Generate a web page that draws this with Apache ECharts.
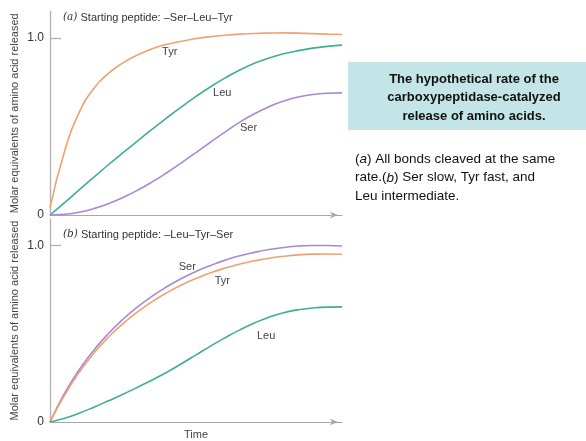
<!DOCTYPE html>
<html>
<head>
<meta charset="utf-8">
<script src="https://cdn.jsdelivr.net/npm/echarts@6/dist/echarts.min.js"></script>
<style>
html,body{margin:0;padding:0;background:#fff;}
#chart{width:586px;height:441px;}
</style>
</head>
<body>
<div id="chart"></div>
<script>
// Time points (arbitrary units, 0..100)
const time = [0, 5, 10, 15, 20, 25, 30, 35, 40, 45, 50, 55, 60, 65, 70, 75, 80, 85, 90, 95, 100];
// Panel (a): Starting peptide –Ser–Leu–Tyr
const tyrA = [0.04, 0.36, 0.58, 0.715, 0.80, 0.86, 0.905, 0.94, 0.965, 0.982, 0.997, 1.008, 1.016, 1.022, 1.026, 1.028, 1.029, 1.028, 1.025, 1.022, 1.02];
const leuA = [0, 0.07, 0.142, 0.214, 0.284, 0.352, 0.419, 0.485, 0.549, 0.611, 0.670, 0.725, 0.775, 0.819, 0.857, 0.887, 0.911, 0.929, 0.943, 0.953, 0.96];
const serA = [0, 0.004, 0.016, 0.036, 0.064, 0.099, 0.140, 0.187, 0.239, 0.295, 0.353, 0.412, 0.470, 0.525, 0.572, 0.612, 0.644, 0.667, 0.681, 0.688, 0.69];
// Panel (b): Starting peptide –Leu–Tyr–Ser
const serB = [0, 0.163, 0.296, 0.407, 0.501, 0.582, 0.652, 0.713, 0.766, 0.813, 0.853, 0.887, 0.917, 0.942, 0.961, 0.977, 0.989, 0.997, 1.0, 1.0, 0.997];
const tyrB = [0, 0.153, 0.282, 0.39, 0.48, 0.557, 0.624, 0.682, 0.732, 0.776, 0.813, 0.845, 0.872, 0.895, 0.913, 0.928, 0.939, 0.947, 0.951, 0.952, 0.95];
const leuB = [0, 0.021, 0.05, 0.084, 0.12, 0.157, 0.197, 0.238, 0.282, 0.33, 0.38, 0.43, 0.478, 0.522, 0.561, 0.594, 0.619, 0.636, 0.646, 0.651, 0.652];
// Tick labels
const yTicks = [0, 1];
const yTickLabels = ['0', '1.0'];
// Curve label positions [time, value]
const labelsA = {Tyr: [41, 0.92], Leu: [59, 0.69], Ser: [68, 0.49]};
const labelsB = {Ser: [47, 0.88], Tyr: [59, 0.80], Leu: [74, 0.49]};

const colors = {Tyr: '#eea274', Leu: '#3fae95', Ser: '#a888d6'};
const font = 'Liberation Sans, Arial, sans-serif';

function pairs(vals) { return time.map((t, i) => [t, vals[i]]); }

function mkSeries(name, vals, idx, labelPos) {
  return {
    type: 'line', name: name, xAxisIndex: idx, yAxisIndex: idx,
    data: pairs(vals), smooth: 0.5, showSymbol: false, silent: true,
    lineStyle: {color: colors[name], width: 1.6},
    markPoint: {
      symbol: 'circle', symbolSize: 0, silent: true,
      label: {show: true, formatter: name, color: '#444', fontSize: 11, fontFamily: font, position: 'inside'},
      data: [{coord: labelPos}]
    }
  };
}

function yAxisCfg(idx) {
  return {
    type: 'value', gridIndex: idx, min: 0, max: 1.15,
    name: 'Molar equivalents of amino acid released',
    nameLocation: 'middle', nameGap: 30, nameRotate: 90,
    nameTextStyle: {fontSize: 11, color: '#444', fontFamily: font},
    splitLine: {show: false},
    axisLine: {show: true, lineStyle: {color: '#b0b0b0', width: 1.3}},
    axisTick: {show: true, inside: true, length: 11, customValues: [1], lineStyle: {color: '#b0b0b0', width: 1.3}},
    axisLabel: {show: true, customValues: yTicks, margin: 6, fontSize: 12, color: '#333', fontFamily: font,
      formatter: v => yTickLabels[yTicks.indexOf(v)]}
  };
}

function xAxisCfg(idx, withName) {
  const a = {
    type: 'value', gridIndex: idx, min: 0, max: 100,
    splitLine: {show: false}, axisTick: {show: false}, axisLabel: {show: false},
    axisLine: {show: true, symbol: ['none', 'arrow'], symbolSize: [5, 8], symbolOffset: [0, -4],
      lineStyle: {color: '#a8a8a8', width: 1.2}}
  };
  if (withName) {
    a.name = 'Time'; a.nameLocation = 'middle'; a.nameGap = 7;
    a.nameTextStyle = {fontSize: 11, color: '#444', fontFamily: font};
  }
  return a;
}

const chart = echarts.init(document.getElementById('chart'), null, {renderer: 'canvas'});
chart.setOption({
  backgroundColor: '#fff',
  animation: false,
  grid: [
    {left: 50, top: 11.5, width: 292, height: 203.5},
    {left: 50, top: 219, width: 292, height: 207}
  ],
  xAxis: [xAxisCfg(0, false), xAxisCfg(1, true)],
  yAxis: [yAxisCfg(0), yAxisCfg(1)],
  series: [
    mkSeries('Tyr', tyrA, 0, labelsA.Tyr),
    mkSeries('Leu', leuA, 0, labelsA.Leu),
    mkSeries('Ser', serA, 0, labelsA.Ser),
    mkSeries('Ser', serB, 1, labelsB.Ser),
    mkSeries('Tyr', tyrB, 1, labelsB.Tyr),
    mkSeries('Leu', leuB, 1, labelsB.Leu)
  ],
  graphic: [
    {type: 'text', left: 63, top: 12, silent: true,
      style: {text: '{i|(a)} Starting peptide: –Ser–Leu–Tyr', fontSize: 11, fill: '#333', fontFamily: font,
        rich: {i: {fontStyle: 'italic', fontFamily: 'DejaVu Serif, serif', fontSize: 10.5, fill: '#333'}}}},
    {type: 'text', left: 63, top: 229, silent: true,
      style: {text: '{i|(b)} Starting peptide: –Leu–Tyr–Ser', fontSize: 11, fill: '#333', fontFamily: font,
        rich: {i: {fontStyle: 'italic', fontFamily: 'DejaVu Serif, serif', fontSize: 10.5, fill: '#333'}}}},
    {type: 'rect', shape: {x: 348, y: 62, width: 238, height: 68}, style: {fill: '#c3e5e7'}, silent: true},
    {type: 'text', x: 474, y: 70, silent: true,
      style: {text: 'The hypothetical rate of the\ncarboxypeptidase-catalyzed\nrelease of amino acids.',
        textAlign: 'center', textVerticalAlign: 'top', fontSize: 13, fontWeight: 'bold', lineHeight: 18.5,
        fill: '#111', fontFamily: font}},
    {type: 'text', x: 355, y: 150, silent: true,
      style: {text: '({i|a}) All bonds cleaved at the same\nrate.({i|b}) Ser slow, Tyr fast, and\nLeu intermediate.',
        textAlign: 'left', textVerticalAlign: 'top', fontSize: 13.5, lineHeight: 18.5, fill: '#111', fontFamily: font,
        rich: {i: {fontStyle: 'italic', fontSize: 13.5, fill: '#111', fontFamily: font, lineHeight: 18.5}}}}
  ]
});
</script>
</body>
</html>
